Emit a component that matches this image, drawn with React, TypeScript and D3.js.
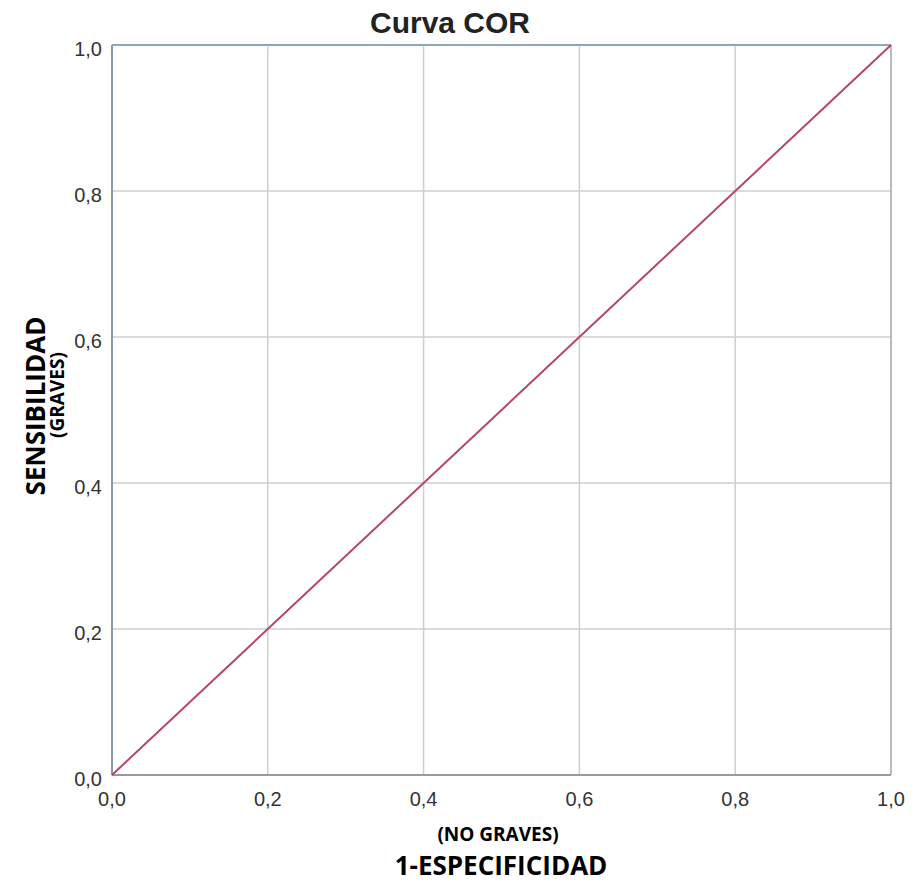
import React from "react";
import * as d3 from "d3";

const fpr = [0, 1];
const tpr = [0, 1];
const ticks = [0, 0.2, 0.4, 0.6, 0.8, 1.0];

const W = 914;
const H = 886;
const M = { left: 112, right: 891, top: 45, bottom: 775 };

const fmt = (v: number) => v.toFixed(1).replace(".", ",");

export default function App() {
  const x = d3.scaleLinear().domain([0, 1]).range([M.left, M.right]);
  const y = d3.scaleLinear().domain([0, 1]).range([M.bottom, M.top]);
  const pts = fpr.map((f, i) => [f, tpr[i]] as [number, number]);
  const line = d3.line<[number, number]>().x(d => x(d[0])).y(d => y(d[1]));

  return (
    <svg width={W} height={H} style={{ position: "absolute", left: 0, top: 0, background: "#fff" }}>
      <text x={450} y={33} textAnchor="middle" fontFamily="Liberation Sans, Arial" fontWeight="bold" fontSize={30} fill="#222">
        Curva COR
      </text>
      {ticks.map(t => (
        <g key={"g" + t}>
          <line x1={x(t)} x2={x(t)} y1={M.top} y2={M.bottom} stroke="#cfcfcf" strokeWidth={1.5} />
          <line x1={M.left} x2={M.right} y1={y(t)} y2={y(t)} stroke="#cfcfcf" strokeWidth={1.5} />
        </g>
      ))}
      <line x1={M.left} x2={M.right} y1={M.top} y2={M.top} stroke="#8aa6c4" strokeWidth={2} />
      <line x1={M.left} x2={M.left} y1={M.top} y2={M.bottom} stroke="#8a9aaa" strokeWidth={2} />
      <line x1={M.left} x2={M.right} y1={M.bottom} y2={M.bottom} stroke="#9a9a9a" strokeWidth={2} />
      <line x1={M.right} x2={M.right} y1={M.top} y2={M.bottom} stroke="#b0b0b0" strokeWidth={1.5} />
      <path d={line(pts) || ""} fill="none" stroke="#b5466a" strokeWidth={2} />
      {ticks.map(t => (
        <text key={"y" + t} x={M.left - 10} y={y(t) + 11} textAnchor="end" fontFamily="Liberation Sans, Arial" fontSize={20} fill="#333">
          {fmt(t)}
        </text>
      ))}
      {ticks.map(t => (
        <text key={"x" + t} x={x(t)} y={M.bottom + 31} textAnchor="middle" fontFamily="Liberation Sans, Arial" fontSize={20} fill="#333">
          {fmt(t)}
        </text>
      ))}
      <text transform="translate(45,406) rotate(-90)" textAnchor="middle" fontFamily="Open Sans, Lato, sans-serif" fontWeight="bold" fontSize={26} fill="#000">
        SENSIBILIDAD
      </text>
      <text transform="translate(64,395) rotate(-90)" textAnchor="middle" fontFamily="Open Sans, Lato, sans-serif" fontWeight="bold" fontSize={19} fill="#000">
        (GRAVES)
      </text>
      <text x={498} y={841} textAnchor="middle" fontFamily="Open Sans, Lato, sans-serif" fontWeight="bold" fontSize={19} fill="#000">
        (NO GRAVES)
      </text>
      <text x={501} y={875} textAnchor="middle" fontFamily="Open Sans, Lato, sans-serif" fontWeight="bold" fontSize={26} fill="#000">
        1-ESPECIFICIDAD
      </text>
    </svg>
  );
}
